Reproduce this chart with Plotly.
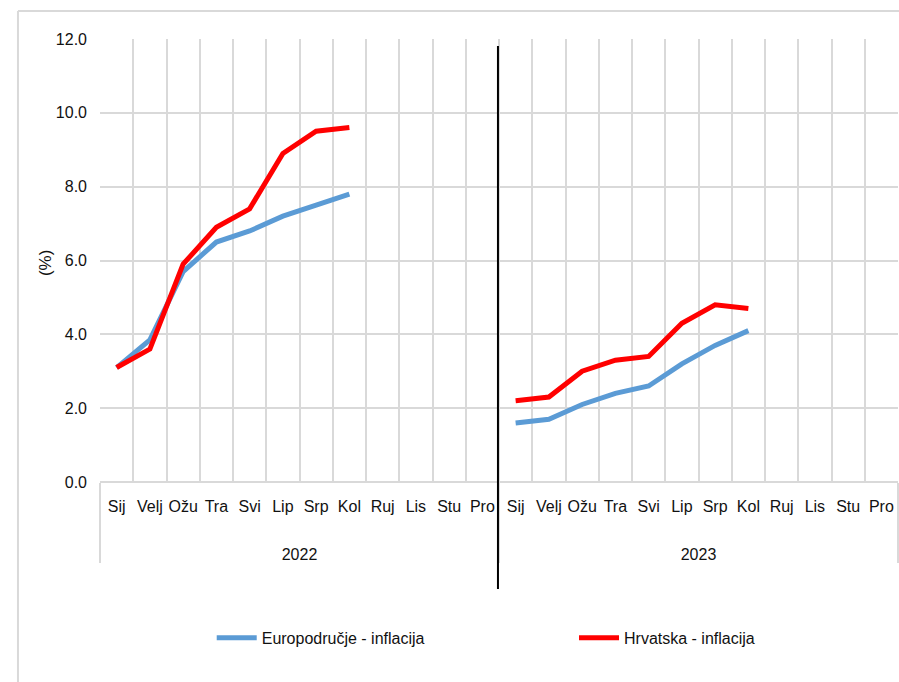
import plotly.graph_objects as go

years = ["<br><br>2022"] * 12 + ["<br><br>2023"] * 12
months = ["Sij", "Velj", "Ožu", "Tra", "Svi", "Lip", "Srp", "Kol", "Ruj", "Lis", "Stu", "Pro"] * 2

euro = [3.1, 3.85, 5.7, 6.5, 6.8, 7.2, 7.5, 7.8, None, None, None, None,
        1.6, 1.7, 2.1, 2.4, 2.6, 3.2, 3.7, 4.1, None, None, None, None]
hrv = [3.1, 3.6, 5.9, 6.9, 7.4, 8.9, 9.5, 9.6, None, None, None, None,
       2.2, 2.3, 3.0, 3.3, 3.4, 4.3, 4.8, 4.7, None, None, None, None]

y_ticks = [0, 2, 4, 6, 8, 10, 12]

FONT = "Liberation Sans, Arial, sans-serif"
GRID = "#d9d9d9"
FS = 16

fig = go.Figure()
fig.add_trace(go.Scatter(x=[years, months], y=euro, mode="lines", name="Europodručje - inflacija",
                         line=dict(color="#5b9bd5", width=5), connectgaps=False, legend="legend"))
fig.add_trace(go.Scatter(x=[years, months], y=hrv, mode="lines", name="Hrvatska - inflacija",
                         line=dict(color="#ff0000", width=5), connectgaps=False, legend="legend2"))

leg_common = dict(orientation="h", xanchor="left", yanchor="middle", y=-0.352,
                  font=dict(size=FS), itemwidth=40, bgcolor="rgba(0,0,0,0)")

fig.update_layout(
    width=899, height=682,
    margin=dict(l=100, r=1, t=39, b=200, autoexpand=False),
    paper_bgcolor="white", plot_bgcolor="white",
    font=dict(family=FONT, size=FS, color="#111111"),
    showlegend=True,
    legend=dict(x=0.140, **leg_common),
    legend2=dict(x=0.594, **leg_common),
    xaxis=dict(type="multicategory", tickson="boundaries", showgrid=True, gridcolor=GRID,
               gridwidth=2, showline=False, ticks="", showdividers=True, dividercolor=GRID,
               dividerwidth=2, range=[-0.5, 23.5], zeroline=False, tickangle=0, automargin=False,
               ticklabelstandoff=13),
    yaxis=dict(range=[0, 12], tickvals=y_ticks, tickformat=".1f", showgrid=True, gridcolor=GRID,
               gridwidth=2, zeroline=True, zerolinecolor=GRID, zerolinewidth=2, showline=False,
               ticks="", ticklabelstandoff=12, automargin=False),
    annotations=[dict(text="(%)", xref="paper", yref="paper", x=-0.069, y=0.494, textangle=-90,
                      xanchor="center", yanchor="middle", showarrow=False, font=dict(size=17))],
    shapes=[
        dict(type="line", xref="paper", yref="paper", x0=0.4987, x1=0.4987, y0=-0.2415, y1=0.984,
             line=dict(color="black", width=2)),
        dict(type="line", xref="paper", yref="paper", x0=-0.1028, x1=1.02, y0=1.063, y1=1.063,
             line=dict(color=GRID, width=2)),
        dict(type="line", xref="paper", yref="paper", x0=-0.1028, x1=-0.1028, y0=-0.5, y1=1.063,
             line=dict(color=GRID, width=2)),
    ],
)

fig.write_html("out.html", config={"displayModeBar": False},
               post_script="document.body.style.margin='0';document.body.style.overflow='hidden';")
